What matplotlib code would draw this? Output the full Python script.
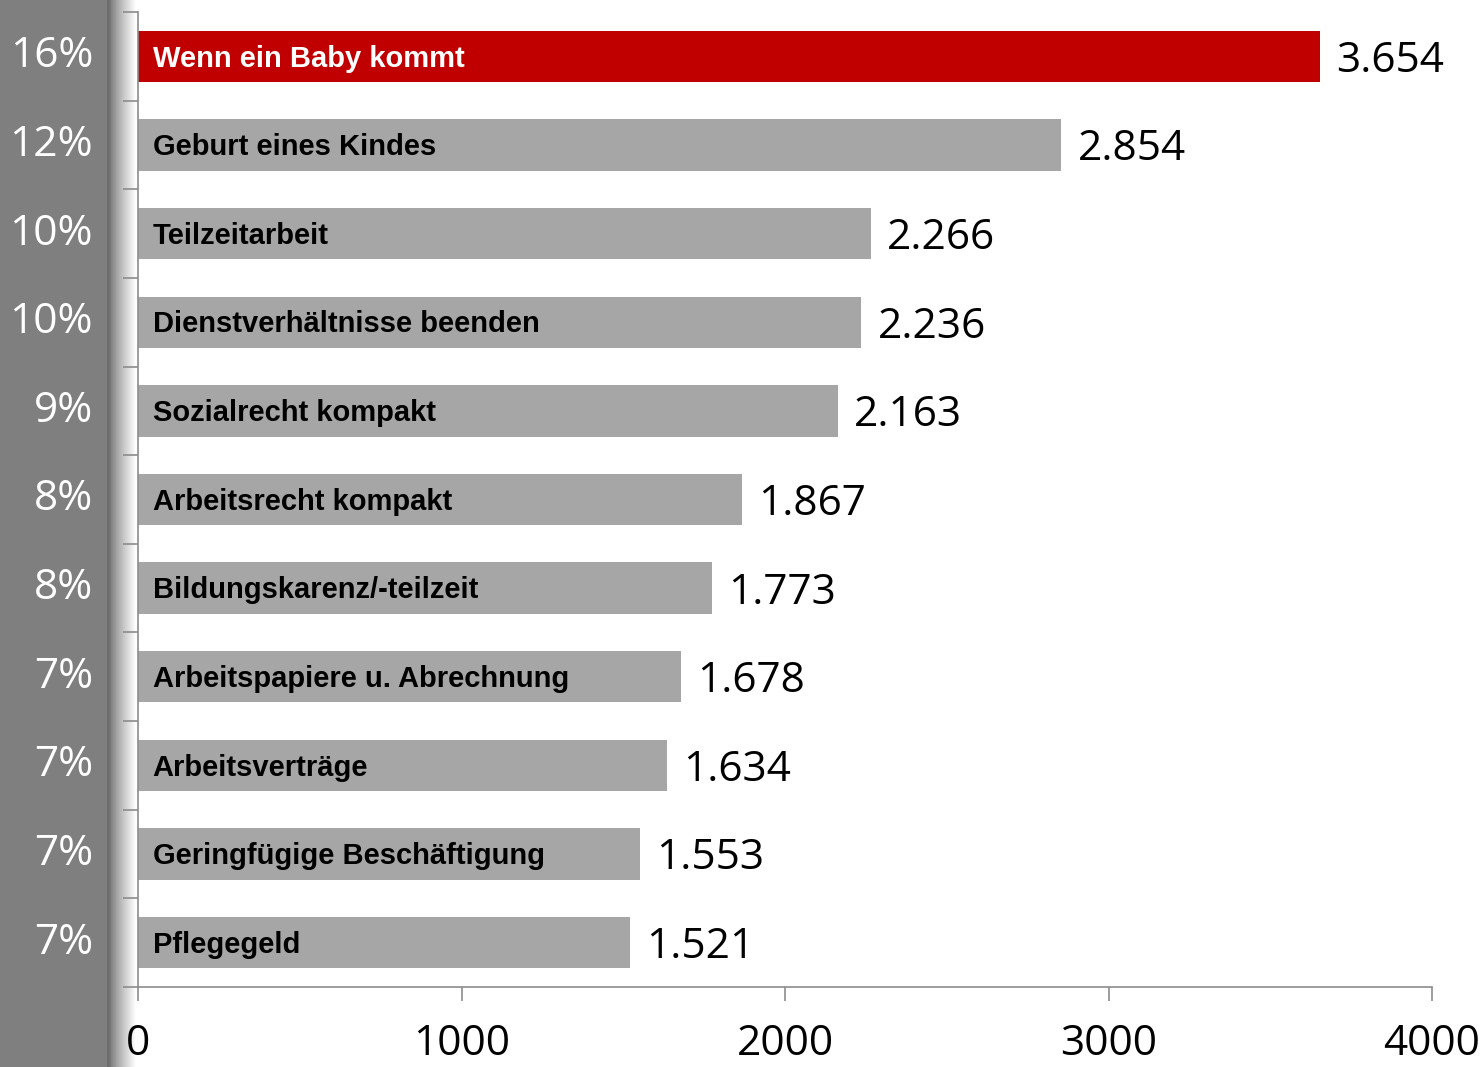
import numpy as np
import matplotlib.pyplot as plt
from matplotlib.patches import Rectangle

categories = ['Wenn ein Baby kommt', 'Geburt eines Kindes', 'Teilzeitarbeit',
              'Dienstverhältnisse beenden', 'Sozialrecht kompakt',
              'Arbeitsrecht kompakt', 'Bildungskarenz/-teilzeit',
              'Arbeitspapiere u. Abrechnung', 'Arbeitsverträge',
              'Geringfügige Beschäftigung', 'Pflegegeld']
values = [3654, 2854, 2266, 2236, 2163, 1867, 1773, 1678, 1634, 1553, 1521]
shares = ['16%', '12%', '10%', '10%', '9%', '8%', '8%', '7%', '7%', '7%', '7%']
xticks = [0, 1000, 2000, 3000, 4000]

W, H = 1484, 1067
fig = plt.figure(figsize=(W / 100, H / 100), dpi=100)

# grey band on the left with a soft shadow
fig.patches.append(Rectangle((0, 0), 107 / W, 1, transform=fig.transFigure,
                             facecolor='#7f7f7f', edgecolor='none', zorder=0))
sh = fig.add_axes([107 / W, 0, 29 / W, 1])
grad = np.linspace(0, 1, 256) ** 0.8
grad = np.concatenate([np.full(20, 0.0), grad])
sh.imshow(grad[np.newaxis, :], aspect='auto', cmap='gray', vmin=-0.75, vmax=1.0,
          extent=[0, 1, 0, 1])
sh.axis('off')

ax = fig.add_axes([138 / W, 80 / H, (1432 - 138) / W, (987 - 12) / H])
y = np.arange(len(values))
colors = ['#c00000'] + ['#a6a6a6'] * (len(values) - 1)
ax.barh(y, values, height=0.58, color=colors, zorder=2)
ax.set_ylim(len(values) - 0.5, -0.5)
ax.set_xlim(0, 4000)

for i, (cat, v) in enumerate(zip(categories, values)):
    tc = 'white' if i == 0 else 'black'
    ax.text(45, i + 0.025, cat, ha='left', va='center', fontsize=21,
            fontweight='bold', family='Liberation Sans', color=tc, zorder=3)
    ax.text(v + 50, i + 0.05, f'{v:,}'.replace(',', '.'), ha='left',
            va='center', fontsize=30.5, family='Open Sans', color='black')
    fig.text(93 / W, 1 - (12 + (i + 0.5) * 975 / 11) / H, shares[i],
             ha='right', va='center', fontsize=30.5, family='Open Sans',
             color='white')

ax.set_yticks(np.arange(-0.5, len(values), 1.0))
ax.set_yticklabels([])
ax.set_xticks(xticks)
ax.set_xticklabels([str(t) for t in xticks], fontsize=30.5, family='Open Sans')
ax.tick_params(axis='y', direction='out', length=11, color='#8c8c8c', width=1.2)
ax.tick_params(axis='x', direction='out', length=10, color='#8c8c8c', width=1.2,
               pad=16)
for s in ['top', 'right']:
    ax.spines[s].set_visible(False)
for s in ['left', 'bottom']:
    ax.spines[s].set_color('#8c8c8c')
    ax.spines[s].set_linewidth(1.2)

fig.savefig('out.png', dpi=100)
